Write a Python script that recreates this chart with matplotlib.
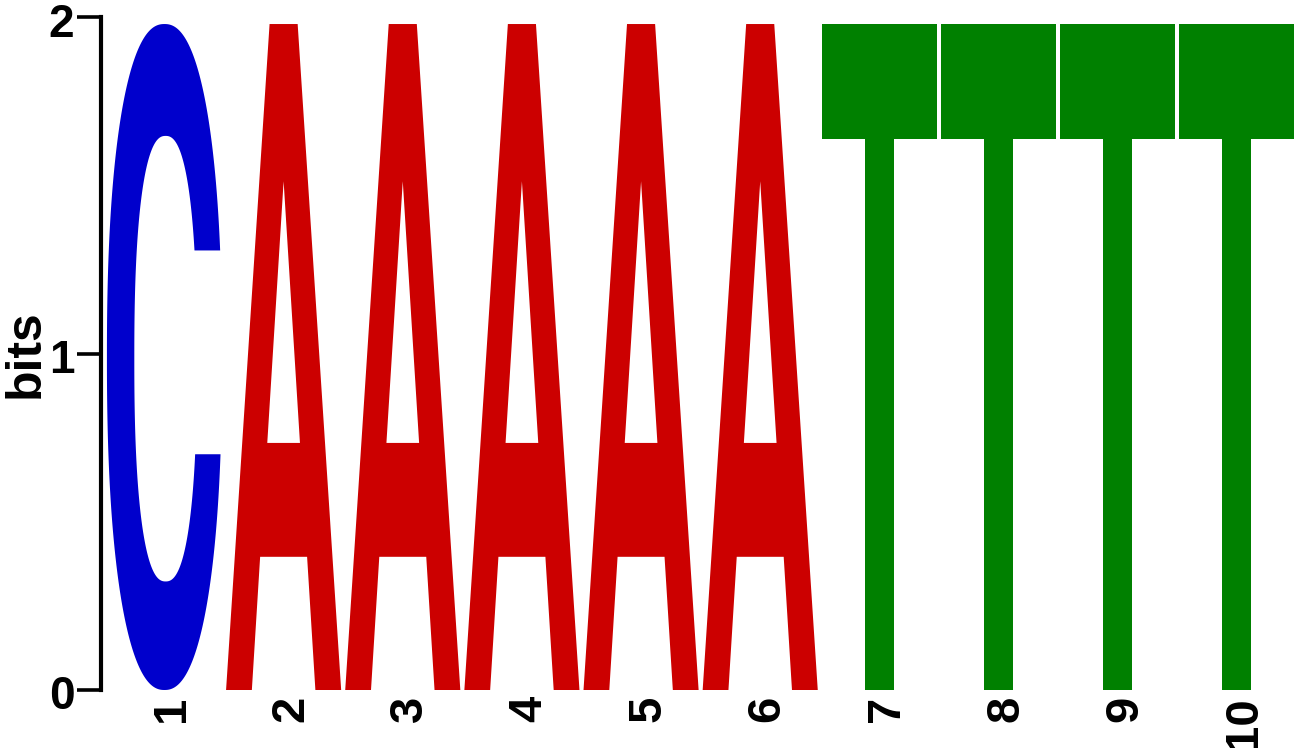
import numpy as np
import matplotlib
matplotlib.use("Agg")
import matplotlib.pyplot as plt
from matplotlib.path import Path
from matplotlib.patches import PathPatch
from matplotlib.transforms import ScaledTranslation

# sequence logo data: one letter per position, height in bits
positions = [1, 2, 3, 4, 5, 6, 7, 8, 9, 10]
letters = ['C', 'A', 'A', 'A', 'A', 'A', 'T', 'T', 'T', 'T']
heights = [1.98, 1.98, 1.98, 1.98, 1.98, 1.98, 1.98, 1.98, 1.98, 1.98]
yticks = [0, 1, 2]

colors = {'A': '#CC0000', 'C': '#0000CC', 'T': '#008000'}

plt.rcParams['font.family'] = 'Liberation Sans'
plt.rcParams['font.weight'] = 'bold'


def superellipse(t, cx, cy, a, b, n):
    c, s = np.cos(t), np.sin(t)
    x = cx + a * np.sign(c) * np.abs(c) ** (2 / n)
    y = cy + b * np.sign(s) * np.abs(s) ** (2 / n)
    return x, y


## glyph outlines in a unit box (u across, v up), list of closed rings
def glyph_C():
    v_lo, v_hi = 0.354, 0.66
    n_o, n_i = 2.3, 2.4
    t1 = np.arcsin(abs(2 * v_hi - 1) ** (n_o / 2))
    t0 = -np.arcsin(abs(2 * v_lo - 1) ** (n_o / 2))
    xo, yo = superellipse(np.linspace(t1, 2 * np.pi + t0, 400), 0.5, 0.5, 0.5, 0.5, n_o)
    cy_i, b_i = 0.4975, 0.3345
    ti0 = -np.arcsin((abs(v_lo - cy_i) / b_i) ** (n_i / 2))
    ti1 = np.arcsin((abs(v_hi - cy_i) / b_i) ** (n_i / 2))
    xi, yi = superellipse(np.linspace(ti0, ti1 - 2 * np.pi, 400), 0.51, cy_i, 0.272, b_i, n_i)
    return [np.column_stack([np.r_[xo, xi], np.r_[yo, yi]])]


def glyph_A():
    outer = [(0, 0), (0.378, 1), (0.622, 1), (1, 0), (0.776, 0),
             (0.704, 0.2), (0.296, 0.2), (0.224, 0)]
    hole = [(0.358, 0.371), (0.642, 0.371), (0.5, 0.764)]
    return [np.array(outer, float), np.array(hole, float)]


def glyph_T():
    bar = 0.828
    s0, s1 = 0.3726, 0.6274
    outer = [(0, 1), (1, 1), (1, bar), (s1, bar), (s1, 0), (s0, 0), (s0, bar), (0, bar)]
    return [np.array(outer, float)]


glyphs = {'A': glyph_A(), 'C': glyph_C(), 'T': glyph_T()}


def letter_patch(letter, pos, base, height, pad=0.017):
    verts, codes = [], []
    x0 = pos - 0.5 + pad
    w = 1 - 2 * pad
    for ring in glyphs[letter]:
        pts = np.column_stack([x0 + ring[:, 0] * w, base + ring[:, 1] * height])
        verts.extend(pts.tolist())
        verts.append(pts[0].tolist())
        codes.extend([Path.MOVETO] + [Path.LINETO] * (len(pts) - 1) + [Path.CLOSEPOLY])
    return PathPatch(Path(verts, codes), facecolor=colors[letter], edgecolor='none')


fig = plt.figure(figsize=(12.94, 7.48), dpi=100)
ax = fig.add_axes([101.2 / 1294, 58 / 748, 1 - 101.2 / 1294, 672.7 / 748])

for pos, let, h in zip(positions, letters, heights):
    ax.add_patch(letter_patch(let, pos, 0, h))

ax.set_xlim(0.469, 10.48)
ax.set_ylim(0, 2)
ax.set_yticks(yticks)
ax.set_xticks(positions, labels=[str(p) for p in positions])

for side in ['top', 'right', 'bottom']:
    ax.spines[side].set_visible(False)
ax.spines['left'].set_linewidth(3.0)

ax.tick_params(axis='y', length=17.6, width=2.6, pad=1.8, labelsize=33)
ax.tick_params(axis='x', length=0, pad=4.3, labelsize=34, labelrotation=90)

for lab in ax.get_xticklabels():
    lab.set_transform(lab.get_transform() + ScaledTranslation(7.5 / 100, 0, fig.dpi_scale_trans))
for lab in ax.get_yticklabels():
    lab.set_transform(lab.get_transform() + ScaledTranslation(0, -2.4 / 100, fig.dpi_scale_trans))

ax.set_ylabel('bits', fontsize=36, fontweight='bold')
ax.yaxis.set_label_coords(-0.0438, 0.5)

plt.savefig('out.png', dpi=100)
plt.close()
